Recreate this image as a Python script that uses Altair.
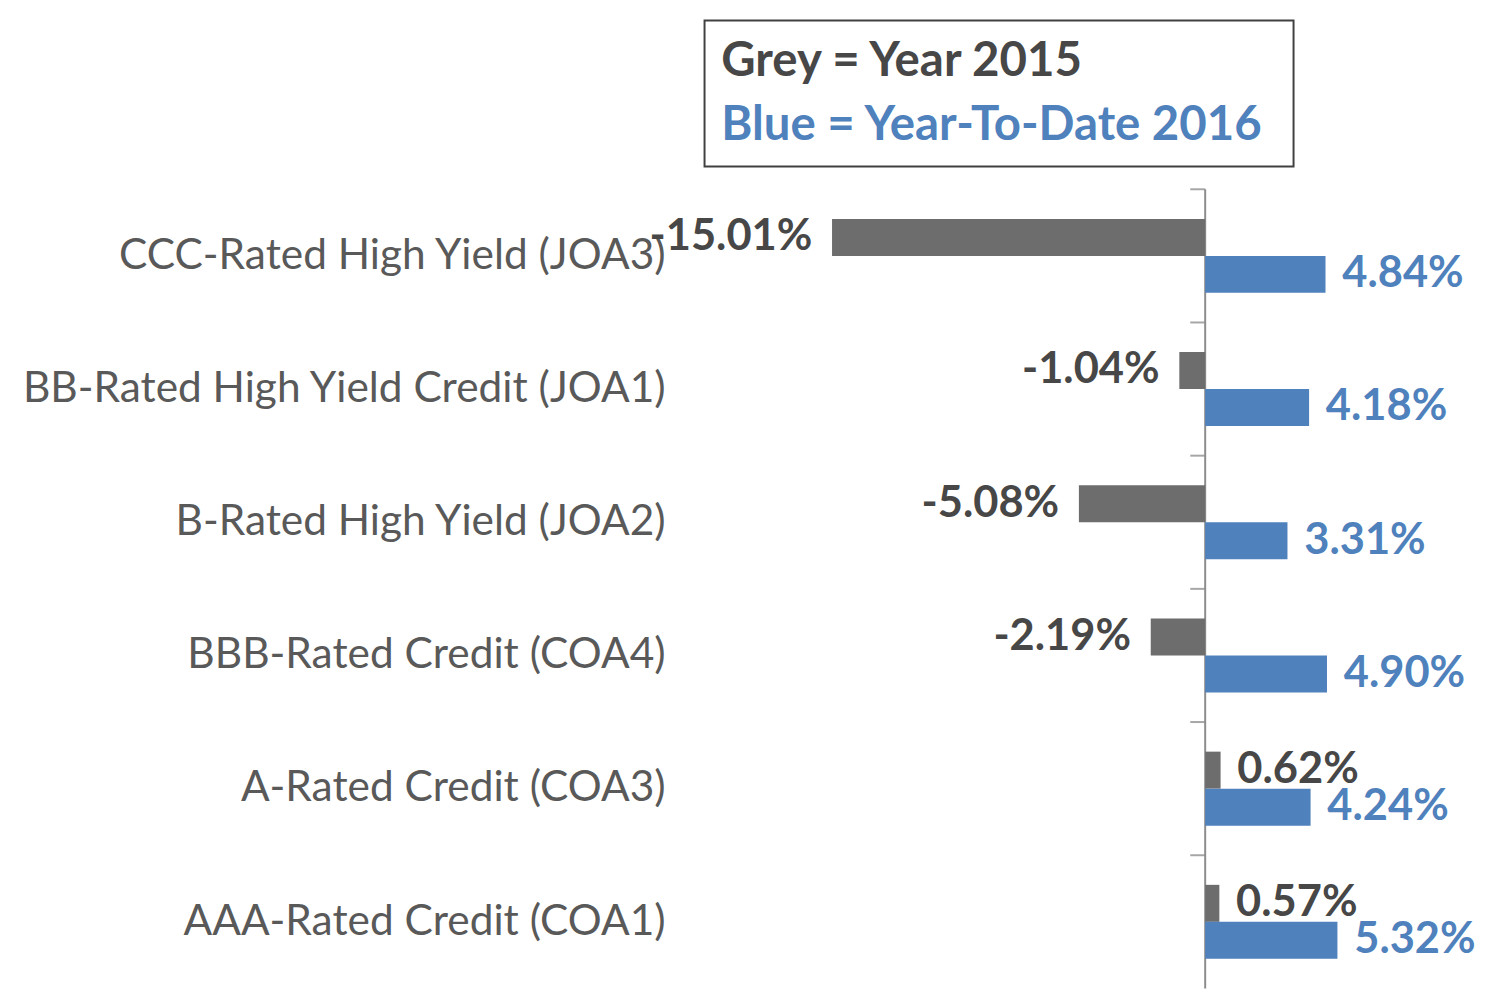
import altair as alt
import pandas as pd

categories = [
    "CCC-Rated High Yield (JOA3)",
    "BB-Rated High Yield Credit (JOA1)",
    "B-Rated High Yield (JOA2)",
    "BBB-Rated Credit (COA4)",
    "A-Rated Credit (COA3)",
    "AAA-Rated Credit (COA1)",
]
year_2015 = [-15.01, -1.04, -5.08, -2.19, 0.62, 0.57]
ytd_2016 = [4.84, 4.18, 3.31, 4.90, 4.24, 5.32]

df15 = pd.DataFrame({"cat": categories, "value": year_2015})
df16 = pd.DataFrame({"cat": categories, "value": ytd_2016})
for d in (df15, df16):
    d["label"] = d["value"].map(lambda v: f"{v:.2f}%")
df15_neg = df15[df15["value"] < 0]
df15_pos = df15[df15["value"] >= 0]
cats_df = pd.DataFrame({"cat": categories, "x0": [-0.6] * 6, "x1": [0.0] * 6})
zero_df = pd.DataFrame({"v": [0.0]})
box_df = pd.DataFrame({"a": [0]})

FONT = "Lato"
W, H = 800, 810
BAR_H = 37.5
GREY, BLUE = "#6D6D6D", "#4F81BD"
GREY_TXT = "#474747"
LBL = 44

xscale = alt.Scale(domain=[-21.25, 10.5], nice=False, zero=False)
yscale = alt.Scale(domain=categories, paddingInner=0, paddingOuter=0)

X = alt.X("value:Q", scale=xscale, axis=None)
Y = alt.Y("cat:N", scale=yscale, sort=categories,
          axis=alt.Axis(title=None, ticks=False, domain=False, labelPadding=12,
                        labelFontSize=43, labelColor="#595959", labelFont=FONT,
                        labelLimit=1000, minExtent=673, maxExtent=673))
Yplain = alt.Y("cat:N", scale=yscale, sort=categories)

bars15 = alt.Chart(df15).mark_bar(color=GREY, height=BAR_H, yOffset=-BAR_H / 2).encode(x=X, y=Y)
bars16 = alt.Chart(df16).mark_bar(color=BLUE, height=BAR_H, yOffset=BAR_H / 2).encode(x=X, y=Yplain)

t15n = alt.Chart(df15_neg).mark_text(
    align="right", baseline="middle", dx=-20, dy=-BAR_H / 2,
    font=FONT, fontSize=LBL, fontWeight="bold", color=GREY_TXT,
).encode(x=X, y=Yplain, text="label:N")
t15p = alt.Chart(df15_pos).mark_text(
    align="left", baseline="middle", dx=17, dy=-BAR_H / 2,
    font=FONT, fontSize=LBL, fontWeight="bold", color=GREY_TXT,
).encode(x=X, y=Yplain, text="label:N")
t16p = alt.Chart(df16).mark_text(
    align="left", baseline="middle", dx=17, dy=BAR_H / 2,
    font=FONT, fontSize=LBL, fontWeight="bold", color=BLUE,
).encode(x=X, y=Yplain, text="label:N")

zero_line = alt.Chart(zero_df).mark_rule(color="#8C8C8C", strokeWidth=2).encode(
    x=alt.X("v:Q", scale=xscale, axis=None)
)

ticks = alt.Chart(cats_df).mark_rule(color="#A6A6A6", strokeWidth=2, yOffset=-67.5).encode(
    x=alt.X("x0:Q", scale=xscale, axis=None), x2="x1:Q", y=Yplain,
)

legend_box = alt.Chart(box_df).mark_rect(
    fillOpacity=0, stroke="#404040", strokeWidth=2, clip=False
).encode(x=alt.value(28), x2=alt.value(625), y=alt.value(-171), y2=alt.value(-23))

chart = alt.layer(ticks, zero_line, bars15, bars16, t15n, t15p, t16p, legend_box).properties(
    width=W, height=H,
    title=alt.TitleParams(
        text="Grey = Year 2015", subtitle="Blue = Year-To-Date 2016",
        anchor="start", frame="group", dx=45, dy=189, offset=57,
        font=FONT, fontSize=48, fontWeight="bold", color=GREY_TXT,
        subtitleFont=FONT, subtitleFontSize=48, subtitleFontWeight="bold",
        subtitleColor=BLUE, subtitlePadding=17,
    ),
).configure_view(strokeWidth=0)

chart.save("out.html", embed_options={"renderer": "svg", "actions": False})
